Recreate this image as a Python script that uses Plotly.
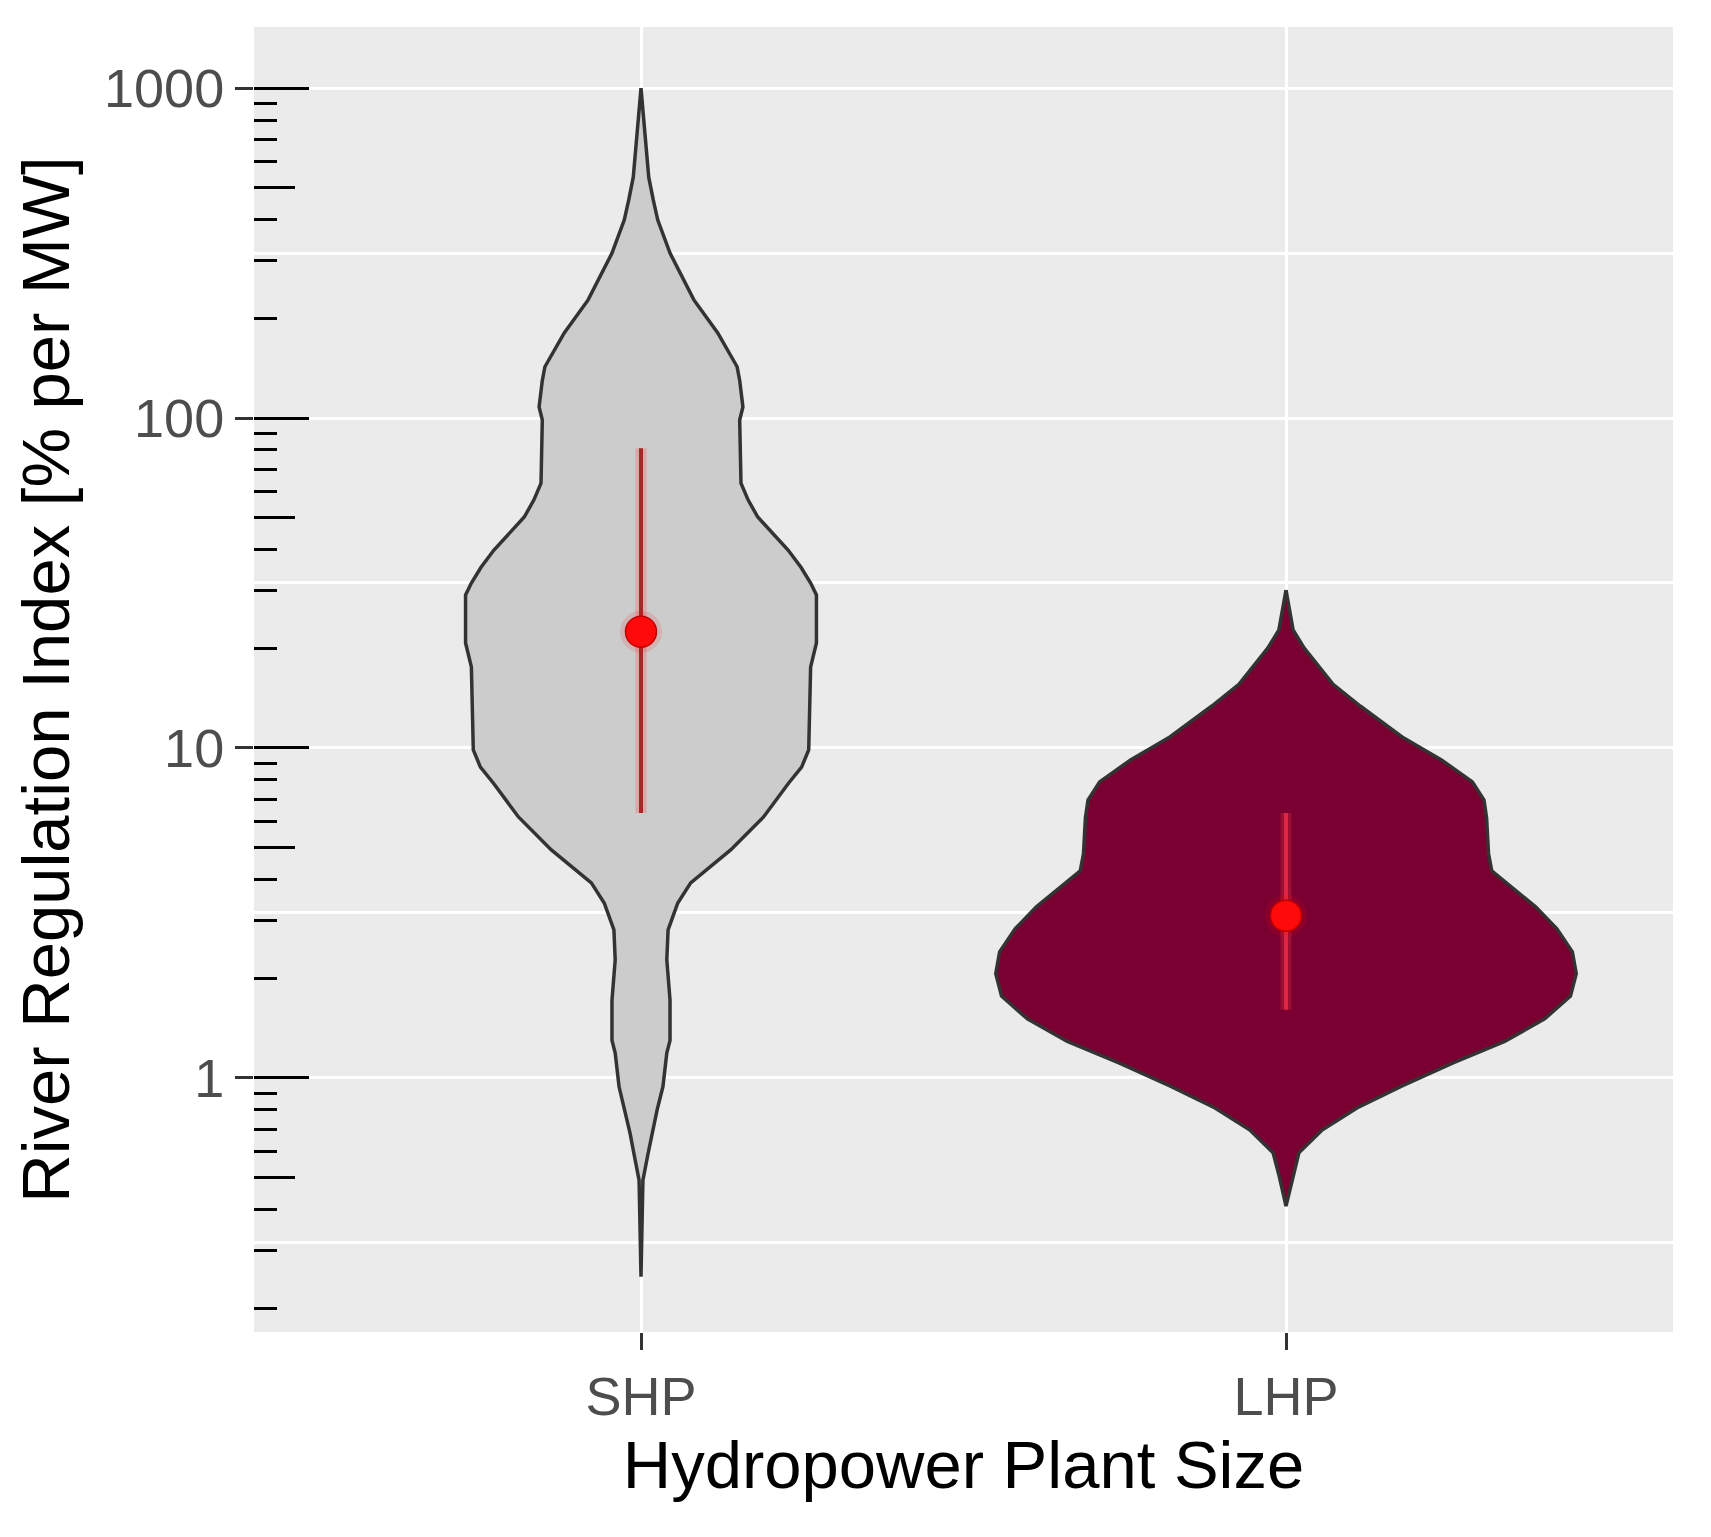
import numpy as np
import plotly.graph_objects as go

# categories on the x axis
categories = ["SHP", "LHP"]

# violin outlines: index value and relative half-width
shp_values = [1000, 537, 458, 398, 316, 228, 181, 143, 130, 108, 98.6, 63.5, 56.5,
              50.1, 39.8, 35.3, 31.6, 29.1, 20.8, 17.6, 9.86, 8.75, 7.83, 6.18,
              4.91, 3.90, 3.39, 2.81, 2.28, 1.72, 1.30, 1.19, 0.94, 0.80, 0.68,
              0.59, 0.49, 0.25]
shp_density = [0.0, 0.012, 0.019, 0.026, 0.045, 0.082, 0.119, 0.149, 0.153, 0.158,
               0.153, 0.155, 0.166, 0.181, 0.228, 0.248, 0.263, 0.272, 0.272,
               0.263, 0.260, 0.249, 0.229, 0.190, 0.139, 0.077, 0.057, 0.042,
               0.040, 0.045, 0.045, 0.040, 0.034, 0.025, 0.017, 0.011, 0.003, 0.0]

lhp_values = [30.1, 22.8, 20.1, 15.6, 13.4, 10.8, 9.20, 7.89, 6.95, 6.14, 4.78,
              4.24, 3.74, 3.30, 2.83, 2.41, 2.07, 1.77, 1.51, 1.29, 1.11, 0.946,
              0.811, 0.695, 0.593, 0.508, 0.409]
lhp_density = [0.0, 0.011, 0.028, 0.073, 0.115, 0.180, 0.241, 0.289, 0.307, 0.311,
               0.314, 0.319, 0.353, 0.387, 0.420, 0.444, 0.450, 0.441, 0.401,
               0.339, 0.259, 0.180, 0.110, 0.056, 0.020, 0.011, 0.0]

# median and range shown in red
medians = [22.5, 3.10]
lower = [6.35, 1.61]
upper = [81.0, 6.35]

fills = ["#cccccc", "#7b0032"]
core_colors = ["#a82626", "#e02644"]
font_family = "Liberation Sans, Arial, sans-serif"

fig = go.Figure()

profiles = [(shp_values, shp_density), (lhp_values, lhp_density)]
for i, (vals, dens) in enumerate(profiles):
    pos = i + 1
    vals = np.array(vals)
    dens = np.array(dens)
    xs = np.concatenate([pos - dens, (pos + dens)[::-1], [pos - dens[0]]])
    ys = np.concatenate([vals, vals[::-1], [vals[0]]])
    fig.add_trace(
        go.Scatter(
            x=xs,
            y=ys,
            mode="lines",
            fill="toself",
            fillcolor=fills[i],
            line=dict(color="#333333", width=3.5),
            showlegend=False,
            hoverinfo="skip",
        )
    )

# red range lines and median dots
for i, cat in enumerate(categories):
    pos = i + 1
    fig.add_trace(
        go.Scatter(
            x=[pos, pos],
            y=[lower[i], upper[i]],
            mode="lines",
            line=dict(color="rgba(255,60,60,0.25)", width=11),
            showlegend=False,
            hoverinfo="skip",
        )
    )
    fig.add_trace(
        go.Scatter(
            x=[pos, pos],
            y=[lower[i], upper[i]],
            mode="lines",
            line=dict(color=core_colors[i], width=4),
            showlegend=False,
            hoverinfo="skip",
        )
    )
    fig.add_trace(
        go.Scatter(
            x=[pos],
            y=[medians[i]],
            mode="markers",
            marker=dict(size=42, color="rgba(255,0,0,0.12)"),
            showlegend=False,
            hoverinfo="skip",
        )
    )
    fig.add_trace(
        go.Scatter(
            x=[pos],
            y=[medians[i]],
            mode="markers",
            marker=dict(size=31, color="#ff0a0a", line=dict(color="#c00000", width=1.5)),
            name=cat,
            showlegend=False,
        )
    )

# invisible anchors so the log-tick overlay axes are drawn
for ax in ["y2", "y3"]:
    fig.add_trace(
        go.Scatter(
            x=[1, 2],
            y=medians,
            yaxis=ax,
            mode="markers",
            marker=dict(opacity=0),
            showlegend=False,
            hoverinfo="skip",
        )
    )

yrange = [-0.770, 3.185]
decades = [1, 10, 100, 1000]
fives = [0.5, 5, 50, 500]
others = [m * 10.0 ** k for k in range(-1, 3) for m in [2, 3, 4, 6, 7, 8, 9]]
half_decades = [10 ** (k + 0.5) for k in range(-1, 3)]

# the page body adds 8px, so margins are trimmed by that on the left/top
fig.update_layout(
    width=1711,
    height=1537,
    margin=dict(l=246, r=46, t=19, b=213),
    paper_bgcolor="white",
    plot_bgcolor="#ebebeb",
    font=dict(family=font_family),
    xaxis=dict(
        range=[0.4, 2.6],
        automargin=False,
        tickvals=[1, 2],
        ticktext=categories,
        ticks="outside",
        ticklen=17,
        tickwidth=3,
        tickcolor="#333333",
        tickfont=dict(size=54, color="#4d4d4d"),
        ticklabelstandoff=0,
        showgrid=True,
        gridcolor="white",
        gridwidth=3,
        zeroline=False,
        showline=False,
        title=dict(
            text="Hydropower Plant Size",
            font=dict(size=67, color="black"),
            standoff=16,
        ),
    ),
    yaxis=dict(
        type="log",
        range=yrange,
        automargin=False,
        tickvals=decades,
        ticktext=["1", "10", "100", "1000"],
        ticks="outside",
        ticklen=18,
        tickwidth=3,
        tickcolor="#333333",
        tickfont=dict(size=54, color="#4d4d4d"),
        ticklabelstandoff=0,
        showgrid=True,
        gridcolor="white",
        gridwidth=3,
        minor=dict(
            tickvals=half_decades,
            ticks="",
            showgrid=True,
            gridcolor="white",
            gridwidth=2.5,
        ),
        zeroline=False,
        showline=False,
        title=dict(
            text="River Regulation Index [% per MW]",
            font=dict(size=67, color="black"),
            standoff=12,
        ),
    ),
    yaxis2=dict(
        type="log",
        range=yrange,
        automargin=False,
        overlaying="y",
        side="left",
        tickvals=decades,
        ticks="inside",
        ticklen=55,
        tickwidth=3,
        tickcolor="black",
        showticklabels=False,
        showgrid=False,
        zeroline=False,
        minor=dict(
            tickvals=fives,
            ticks="inside",
            ticklen=41,
            tickwidth=3,
            tickcolor="black",
            showgrid=False,
        ),
    ),
    yaxis3=dict(
        type="log",
        range=yrange,
        automargin=False,
        overlaying="y",
        side="left",
        tickvals=others,
        ticks="inside",
        ticklen=23,
        tickwidth=3,
        tickcolor="black",
        showticklabels=False,
        showgrid=False,
        zeroline=False,
    ),
)

fig.write_html("out.html")
